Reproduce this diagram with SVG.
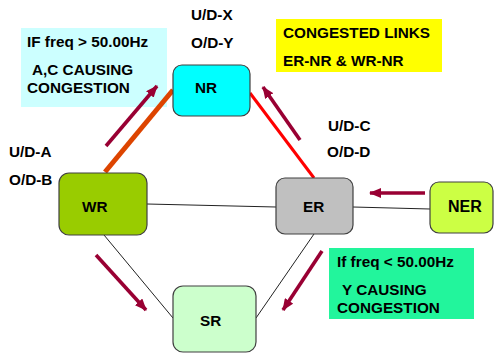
<svg xmlns="http://www.w3.org/2000/svg" width="495" height="354" viewBox="0 0 495 354">
  <style>
    text { font-family: "Liberation Sans", Arial, sans-serif; font-weight: bold; font-size: 15.3px; fill: #000; }
    .node { stroke: #404040; stroke-width: 1.2; }
    .thin { stroke: #222; stroke-width: 1; fill: none; }
    .flow { stroke: #990033; stroke-width: 3.6; fill: none; marker-end: url(#head); }
  </style>
  <defs>
    <marker id="head" viewBox="0 0 12 10" refX="11" refY="5" markerWidth="12" markerHeight="10" orient="auto" markerUnits="userSpaceOnUse">
      <path d="M0,0 L12,5 L0,10 Z" fill="#990033"/>
    </marker>
  </defs>
  <rect width="495" height="354" fill="#fff"/>

  <!-- note boxes -->
  <g id="note-high">
    <rect x="21" y="28" width="146" height="79" fill="#ccffff"/>
    <text x="27" y="47">IF freq &gt; 50.00Hz</text>
    <text x="32" y="75">A,C CAUSING</text>
    <text x="27" y="93">CONGESTION</text>
  </g>
  <g id="note-links">
    <rect x="276" y="19" width="166" height="53" fill="#ffff00"/>
    <text x="283" y="38">CONGESTED LINKS</text>
    <text x="283" y="66">ER-NR &amp; WR-NR</text>
  </g>
  <g id="note-low">
    <rect x="329" y="248" width="145" height="71" fill="#22f59c"/>
    <text x="337" y="267">If freq &lt; 50.00Hz</text>
    <text x="342" y="295">Y  CAUSING</text>
    <text x="337" y="313">CONGESTION</text>
  </g>

  <!-- schedule labels -->
  <g id="labels">
    <text x="191" y="20">U/D-X</text>
    <text x="191" y="48">O/D-Y</text>
    <text x="328" y="131">U/D-C</text>
    <text x="327" y="157">O/D-D</text>
    <text x="9" y="157">U/D-A</text>
    <text x="9" y="185">O/D-B</text>
  </g>

  <!-- connectors -->
  <g id="connectors">
    <line class="thin" x1="147" y1="204" x2="276" y2="207"/>
    <line class="thin" x1="353" y1="207" x2="430" y2="209"/>
    <line class="thin" x1="104" y1="235" x2="173" y2="318"/>
    <line class="thin" x1="314" y1="234" x2="256" y2="318"/>
    <line x1="105" y1="172" x2="173" y2="90" stroke="#dd4400" stroke-width="5"/>
    <line x1="250" y1="93" x2="314" y2="178" stroke="#ff0000" stroke-width="3"/>
    <line class="flow" x1="106" y1="146" x2="157" y2="86"/>
    <line class="flow" x1="300" y1="140" x2="263" y2="87"/>
    <line class="flow" x1="425" y1="193" x2="370" y2="193"/>
    <line class="flow" x1="96" y1="255" x2="146" y2="310"/>
    <line class="flow" x1="322" y1="251" x2="283" y2="310"/>
  </g>

  <!-- nodes -->
  <g id="NR">
    <rect class="node" x="173" y="65" width="77" height="51" rx="9" fill="#00ffff"/>
    <text x="195" y="93">NR</text>
  </g>
  <g id="WR">
    <rect class="node" x="59" y="173" width="88" height="62" rx="10" fill="#99cc00"/>
    <text x="82" y="212">WR</text>
  </g>
  <g id="ER">
    <rect class="node" x="276" y="178" width="77" height="56" rx="9" fill="#c0c0c0"/>
    <text x="303" y="212">ER</text>
  </g>
  <g id="NER">
    <rect class="node" x="430" y="182" width="63" height="51" rx="9" fill="#ccff44"/>
    <text x="448" y="212" style="font-size:16px">NER</text>
  </g>
  <g id="SR">
    <rect class="node" x="173" y="286" width="83" height="66" rx="10" fill="#ccffcc"/>
    <text x="200" y="326">SR</text>
  </g>
</svg>
